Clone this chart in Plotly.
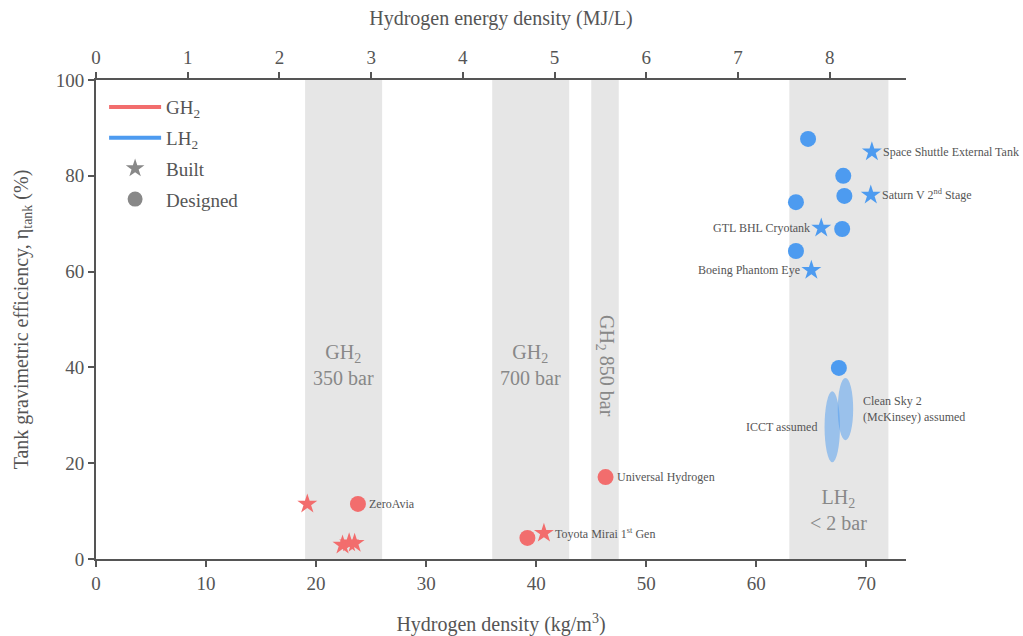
import plotly.graph_objects as go

# ---------------- data ----------------
# GH2 tanks
gh2_built_density = [19.2, 22.4, 23.0, 23.5, 40.7]
gh2_built_eff = [11.5, 2.9, 3.4, 3.3, 5.4]
gh2_designed_density = [23.8, 39.2, 46.3]
gh2_designed_eff = [11.5, 4.4, 17.1]

# LH2 tanks
lh2_built_density = [70.5, 70.4, 65.9, 65.0]
lh2_built_eff = [85.0, 76.0, 69.1, 60.3]
lh2_designed_density = [64.7, 67.9, 68.0, 63.6, 67.8, 63.6, 67.5]
lh2_designed_eff = [87.7, 80.0, 75.8, 74.5, 68.9, 64.3, 39.9]

# assumed ranges (ellipses): density range, efficiency range
assumed_names = ["ICCT assumed", "Clean Sky 2<br>(McKinsey) assumed"]
assumed_density_lo = [66.2, 67.4]
assumed_density_hi = [67.6, 68.8]
assumed_eff_lo = [20.2, 24.8]
assumed_eff_hi = [35.0, 37.8]

# storage regimes
region_labels = ["GH<sub>2</sub><br>350 bar", "GH<sub>2</sub><br>700 bar",
                 "GH<sub>2</sub> 850 bar", "LH<sub>2</sub><br>< 2 bar"]
region_lo = [19, 36, 45, 63]
region_hi = [26, 43, 47.5, 72]
region_label_eff = [40.5, 40.5, 40.3, 10.2]

# labelled points
label_texts = ["ZeroAvia", "Universal Hydrogen", "Toyota Mirai 1<sup>st</sup> Gen",
               "Space Shuttle External Tank", "Saturn V 2<sup>nd</sup> Stage",
               "GTL BHL Cryotank", "Boeing Phantom Eye"]
label_density = [gh2_designed_density[0], gh2_designed_density[2], gh2_built_density[4],
                 lh2_built_density[0], lh2_built_density[1], lh2_built_density[2], lh2_built_density[3]]
label_eff = [gh2_designed_eff[0], gh2_designed_eff[2], gh2_built_eff[4],
             lh2_built_eff[0], lh2_built_eff[1], lh2_built_eff[2], lh2_built_eff[3]]
label_side = ["right", "right", "right", "right", "right", "left", "left"]

x_ticks = [0, 10, 20, 30, 40, 50, 60, 70]
x2_ticks = [0, 1, 2, 3, 4, 5, 6, 7, 8]
y_ticks = [0, 20, 40, 60, 80, 100]
MJ_PER_KG = 0.12  # MJ/L per kg/m^3
X_MAX = 73.6

RED = "#F26D6D"
BLUE = "#4D9BF0"
GREY = "#888888"
TXT = "#555555"
FONT = "Liberation Serif"

fig = go.Figure()

# data traces
fig.add_trace(go.Scatter(x=gh2_built_density, y=gh2_built_eff, mode="markers",
                         marker=dict(symbol="star", size=15, color=RED), showlegend=False))
fig.add_trace(go.Scatter(x=gh2_designed_density, y=gh2_designed_eff, mode="markers",
                         marker=dict(symbol="circle", size=16, color=RED), showlegend=False))
fig.add_trace(go.Scatter(x=lh2_built_density, y=lh2_built_eff, mode="markers",
                         marker=dict(symbol="star", size=15, color=BLUE), showlegend=False))
fig.add_trace(go.Scatter(x=lh2_designed_density, y=lh2_designed_eff, mode="markers",
                         marker=dict(symbol="circle", size=16, color=BLUE), showlegend=False))

# legend entries
fig.add_trace(go.Scatter(x=[None], y=[None], mode="lines", name="GH<sub>2</sub>",
                         line=dict(color=RED, width=4), legendgroup="a"))
fig.add_trace(go.Scatter(x=[None], y=[None], mode="lines", name="LH<sub>2</sub>",
                         line=dict(color=BLUE, width=4), legendgroup="b"))
fig.add_trace(go.Scatter(x=[None], y=[None], mode="markers", name="Built",
                         marker=dict(symbol="star", size=14, color=GREY), legendgroup="c"))
fig.add_trace(go.Scatter(x=[None], y=[None], mode="markers", name="Designed",
                         marker=dict(symbol="circle", size=15, color=GREY), legendgroup="d"))

# dummy trace for top axis
fig.add_trace(go.Scatter(x=[0], y=[None], xaxis="x2", mode="markers",
                         showlegend=False, hoverinfo="skip"))

shapes = []
for lo, hi in zip(region_lo, region_hi):
    shapes.append(dict(type="rect", xref="x", yref="y", x0=lo, x1=hi, y0=0, y1=100,
                       fillcolor="#E6E6E6", line=dict(width=0), layer="below"))
for dlo, dhi, elo, ehi in zip(assumed_density_lo, assumed_density_hi, assumed_eff_lo, assumed_eff_hi):
    shapes.append(dict(type="circle", xref="x", yref="y", x0=dlo, x1=dhi, y0=elo, y1=ehi,
                       fillcolor="rgba(77,155,240,0.5)", line=dict(width=0), layer="above"))

annotations = []
for i, (t, xv, yv) in enumerate(zip(region_labels, region_lo, region_label_eff)):
    xc = (region_lo[i] + region_hi[i]) / 2
    annotations.append(dict(x=xc, y=yv, xref="x", yref="y", text=t, showarrow=False,
                            textangle=90 if i == 2 else 0,
                            font=dict(family=FONT, size=20, color=GREY)))
for t, xv, yv, side in zip(label_texts, label_density, label_eff, label_side):
    annotations.append(dict(x=xv, y=yv, xref="x", yref="y", text=t, showarrow=False,
                            xanchor="left" if side == "right" else "right",
                            xshift=9 if side == "right" else -9,
                            font=dict(family=FONT, size=12, color=TXT)))
# assumed labels
annotations.append(dict(x=assumed_density_lo[0], y=(assumed_eff_lo[0] + assumed_eff_hi[0]) / 2,
                        xref="x", yref="y", text=assumed_names[0], showarrow=False,
                        xanchor="right", xshift=-6, font=dict(family=FONT, size=12, color=TXT)))
annotations.append(dict(x=assumed_density_hi[1], y=(assumed_eff_lo[1] + assumed_eff_hi[1]) / 2,
                        xref="x", yref="y", text=assumed_names[1], showarrow=False, align="left",
                        xanchor="left", xshift=8, font=dict(family=FONT, size=12, color=TXT)))

axis_common = dict(showline=True, linecolor=TXT, linewidth=2, ticks="outside", ticklen=6,
                   tickwidth=2, tickcolor=TXT, showgrid=False, zeroline=False, automargin=False,
                   tickfont=dict(family=FONT, size=19, color=TXT))

fig.update_layout(
    width=1023, height=636,
    margin=dict(l=96, r=117, t=80, b=77),
    plot_bgcolor="white", paper_bgcolor="white",
    shapes=shapes, annotations=annotations,
    xaxis=dict(range=[0, X_MAX], tickvals=x_ticks, **axis_common,
               title=dict(text="Hydrogen density (kg/m<sup>3</sup>)",
                          font=dict(family=FONT, size=20, color=TXT), standoff=26)),
    xaxis2=dict(range=[0, X_MAX * MJ_PER_KG], tickvals=x2_ticks, overlaying="x", side="top",
                anchor="y", **axis_common,
                title=dict(text="Hydrogen energy density (MJ/L)",
                           font=dict(family=FONT, size=20, color=TXT), standoff=16)),
    yaxis=dict(range=[0, 100], tickvals=y_ticks, **axis_common,
               title=dict(text="Tank gravimetric efficiency, η<sub>tank</sub> (%)",
                          font=dict(family=FONT, size=20, color=TXT), standoff=22)),
    legend=dict(x=0.01, y=0.983, xanchor="left", yanchor="top", bgcolor="rgba(0,0,0,0)",
                font=dict(family=FONT, size=19, color=TXT), tracegroupgap=3,
                traceorder="grouped", itemwidth=52),
    showlegend=True,
)

fig.write_html("out.html", config={"displayModeBar": False},
               post_script="document.body.style.margin='0';")
